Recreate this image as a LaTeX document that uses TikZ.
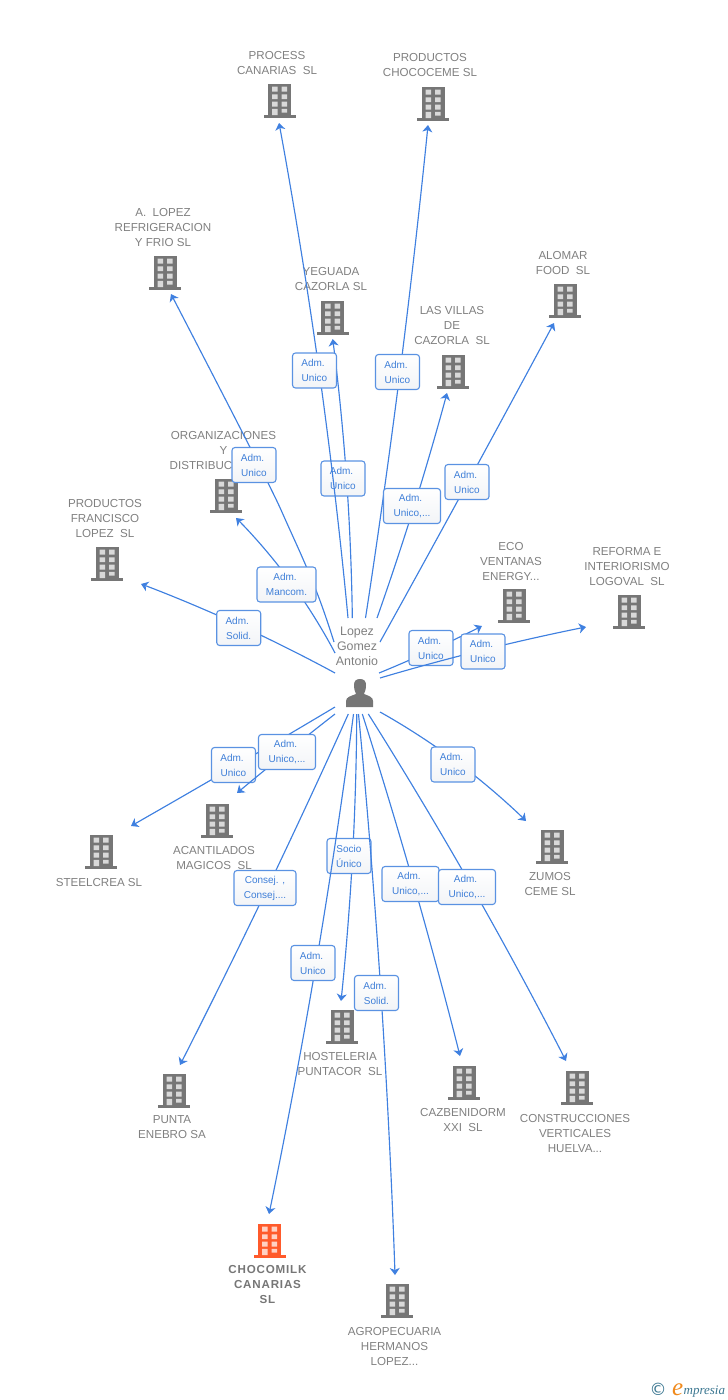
\documentclass[tikz,border=0pt]{standalone}
\usepackage{fontspec}
\setmainfont{Liberation Sans}
\newfontfamily\logofont{Liberation Serif}
\newfontfamily\symfont{DejaVu Sans}
\usetikzlibrary{arrows.meta,shadings}
\definecolor{linkblue}{HTML}{3F80E0}
\definecolor{boxblue}{HTML}{5A92E2}
\definecolor{txtblue}{HTML}{3F7FD8}
\definecolor{lblgray}{HTML}{808080}
\definecolor{icongray}{HTML}{767676}
\definecolor{iconorange}{HTML}{FF5A2B}
\definecolor{logoblue}{HTML}{3A7690}
\definecolor{logoorange}{HTML}{F08A1D}
\definecolor{boxlow}{HTML}{F2F4F7}
\tikzset{
  lbl/.style={text=lblgray,align=center,inner sep=0pt,yshift=-1pt,font=\fontsize{11.6}{15}\selectfont},
  lblb/.style={text=icongray,align=center,inner sep=0pt,yshift=-1pt,font=\fontsize{11.6}{15}\selectfont\bfseries\addfontfeature{LetterSpace=7}},
  role/.style={draw=boxblue,line width=1.1pt,rounded corners=3pt,top color=white,bottom color=boxlow,
    text=txtblue,align=center,inner sep=0pt,minimum height=35pt,font=\fontsize{10}{15}\selectfont},
  link/.style={draw=linkblue,line width=1.15pt,-{Stealth[length=7pt,width=10pt,inset=2pt]}},
}
\newcommand{\bldg}[3]{%
  \begin{scope}[shift={(#1,#2)}]
    \fill[#3] (-11.5,-16) rectangle (11.5,15);
    \fill[#3] (-16,15) rectangle (16,17.5);
    \fill[white!72!#3] (-7.3,-13.3) rectangle (-1.8,-8.5)
      (2.2,-13.3) rectangle (7.7,-8.5)
      (-7.3,-5.7) rectangle (-1.8,-0.9)
      (2.2,-5.7) rectangle (7.7,-0.9)
      (-7.3,1.7) rectangle (-1.8,6.5)
      (2.2,1.7) rectangle (7.7,6.5)
      (-7.3,8.8) rectangle (-1.8,15)
      (2.2,8.8) rectangle (7.7,12.5);
  \end{scope}}
\newcommand{\lnk}[3]{\draw[link] plot[smooth,tension=1] coordinates {(#1) (#2) (#3)};}
\newcommand{\au}{Adm.\hspace*{3pt}\\Unico}
\newcommand{\aud}{Adm.\hspace*{3pt}\\Unico,...}
\newcommand{\aso}{Adm.\hspace*{3pt}\\Solid.}
\begin{document}
\begin{tikzpicture}[x=1pt,y=-1pt]
\useasboundingbox (0,0) rectangle (728,1400);
% buildings
\bldg{279.5}{100}{icongray}
\bldg{433}{103}{icongray}
\bldg{165}{272}{icongray}
\bldg{332.5}{317}{icongray}
\bldg{453}{371}{icongray}
\bldg{565}{300}{icongray}
\bldg{226}{495}{icongray}
\bldg{107}{563}{icongray}
\bldg{514}{605}{icongray}
\bldg{629}{611}{icongray}
\bldg{217}{820}{icongray}
\bldg{101}{851}{icongray}
\bldg{552}{846}{icongray}
\bldg{174}{1090}{icongray}
\bldg{342}{1026}{icongray}
\bldg{464}{1082}{icongray}
\bldg{577}{1087}{icongray}
\bldg{269.5}{1240}{iconorange}
\bldg{397}{1300}{icongray}
% labels
\node[lbl] (tprocess) at (277,62.5) {PROCESS\\CANARIAS\ \ SL};
\node[lbl] (tchoco) at (430,64.5) {PRODUCTOS\\CHOCOCEME SL};
\node[lbl] (tlopez) at (163,227) {A.\ \ LOPEZ\\REFRIGERACION\\Y FRIO SL};
\node[lbl] (tyeg) at (331,278.5) {YEGUADA\\CAZORLA SL};
\node[lbl] (tvillas) at (452,325) {LAS VILLAS\\DE\\CAZORLA\ \ SL};
\node[lbl] (talomar) at (563,262.5) {ALOMAR\\FOOD\ \ SL};
\node[lbl] (torg) at (223.5,450) {ORGANIZACIONES\\Y\\DISTRIBUC\hspace*{45pt}};
\node[lbl] (tfran) at (105,518) {PRODUCTOS\\FRANCISCO\\LOPEZ\ \ SL};
\node[lbl] (teco) at (511,560) {ECO\\VENTANAS\\ENERGY...};
\node[lbl] (tref) at (627,565) {REFORMA E\\INTERIORISMO\\LOGOVAL\ \ SL};
\node[lbl] (tacan) at (214,856.5) {ACANTILADOS\\MAGICOS\ \ SL};
\node[lbl] (tsteel) at (99,881) {STEELCREA SL};
\node[lbl] (tzumos) at (550,882.5) {ZUMOS\\CEME SL};
\node[lbl] (tpunta) at (172,1126.5) {PUNTA\\ENEBRO SA};
\node[lbl] (thost) at (340,1062.5) {HOSTELERIA\\PUNTACOR\ \ SL};
\node[lbl] (tcaz) at (463,1118.5) {CAZBENIDORM\\XXI\ \ SL};
\node[lbl] (tcons) at (575,1132) {CONSTRUCCIONES\\VERTICALES\\HUELVA...};
\node[lblb] (tmilk) at (267.5,1283.5) {CHOCOMILK\\CANARIAS\\SL};
\node[lbl] (tagro) at (394.5,1345) {AGROPECUARIA\\HERMANOS\\LOPEZ...};
% person
\node[text=lblgray,align=center,inner sep=0pt,yshift=-1pt,font=\fontsize{12.4}{15}\selectfont] (person) at (357,645) {Lopez\\Gomez\\Antonio};
\fill[icongray] (346,707) -- (346,701) .. controls (346,697) and (351,696) .. (356,694)
  .. controls (355,692) and (354,689) .. (354,685) .. controls (354,681) and (356,679) .. (360,679)
  .. controls (364,679) and (366,681) .. (366,685) .. controls (366,689) and (365,692) .. (364,694)
  .. controls (369,696) and (373,697) .. (373,701) -- (373,707) -- cycle;
% connector ends
\foreach \n/\x/\y in {s1/348/618,e1/279/123, s2/352.3/618,e2/332.7/339, s3/365.5/618,e3/428/125,
  s4/377/618,e4/447/393, s5/380/642,e5/554/323, s6/334/642,e6/171/294, s7/335/653,e7/236/518,
  s8/335/673,e8/141/584, s9/379/673,e9/482/626, s10/380/678,e10/586/627, s11/335/707,e11/131/826,
  s12/335/714,e12/237/793, s13/348.3/714,e13/180/1065, s14/353.5/714,e14/269/1214, s15/356.7/714,e15/341/1001,
  s16/358.5/714,e16/395/1275, s17/362.3/714,e17/460/1056, s18/368.3/714,e18/566/1061, s19/380/712,e19/526/821}
  {\coordinate (\n) at (\x,\y);}
% connectors and role boxes, in drawing order
\lnk{s2}{346.5,478}{e2}
\node[role,minimum width=44pt] (r2) at (343,478.5) {\au};
\lnk{s1}{319,370}{e1}
\node[role,minimum width=44pt] (r1) at (314.5,370.5) {\au};
\lnk{s3}{400,372}{e3}
\node[role,minimum width=44pt] (r3) at (397.5,372) {\au};
\lnk{s4}{414.5,505}{e4}
\node[role,minimum width=57pt] (r4) at (412,506) {\aud};
\lnk{s5}{468,482}{e5}
\node[role,minimum width=44pt] (r5) at (467,482) {\au};
\draw[link] plot[smooth,tension=0.7] coordinates {(s6) (316.7,592) (290,530) (259,465) (e6)};
\node[role,minimum width=44pt] (r6) at (254,465) {\au};
\lnk{s7}{290,581}{e7}
\node[role,minimum width=59pt] (r7) at (286.5,584.5) {Adm.\hspace*{3pt}\\Mancom.};
\lnk{s8}{238,624.5}{e8}
\node[role,minimum width=44pt] (r8) at (238.7,628) {\aso};
\lnk{s9}{431,650.5}{e9}
\node[role,minimum width=44pt] (r9) at (431,648) {\au};
\lnk{s10}{483,650}{e10}
\node[role,minimum width=44pt] (r10) at (483,651.5) {\au};
\lnk{s11}{235,766}{e11}
\node[role,minimum width=44pt] (r11) at (233.5,765) {\au};
\lnk{s12}{287,752}{e12}
\node[role,minimum width=57pt] (r12) at (287,752) {\aud};
\lnk{s13}{267,889}{e13}
\node[role,minimum width=62pt] (r13) at (265,888) {Consej. ,\\Consej....};
\lnk{s15}{352.5,857}{e15}
\node[role,minimum width=44pt] (r15) at (349,856) {Socio\\Único};
\lnk{s14}{316,964}{e14}
\node[role,minimum width=44pt] (r14) at (313,963) {\au};
\lnk{s16}{381,994}{e16}
\node[role,minimum width=44pt] (r16) at (376.5,993) {\aso};
\lnk{s17}{414,885}{e17}
\node[role,minimum width=57pt] (r17) at (410.5,884) {\aud};
\lnk{s18}{472,887}{e18}
\node[role,minimum width=57pt] (r18) at (467,887) {\aud};
\lnk{s19}{457,762}{e19}
\node[role,minimum width=44pt] (r19) at (453,764.5) {\au};
% logo
\node[text=logoblue,inner sep=0pt,font=\symfont\fontsize{17}{17}\selectfont] (copy) at (658,1389) {©};
\node[text=logoorange,inner sep=0pt,anchor=base west,font=\logofont\fontsize{25}{25}\selectfont\itshape] (logoe) at (672,1395) {e};
\node[text=logoblue,inner sep=0pt,anchor=base west,font=\logofont\fontsize{13}{13}\selectfont\itshape] (logot) at (683.5,1394) {mpresia};
\end{tikzpicture}
\end{document}
